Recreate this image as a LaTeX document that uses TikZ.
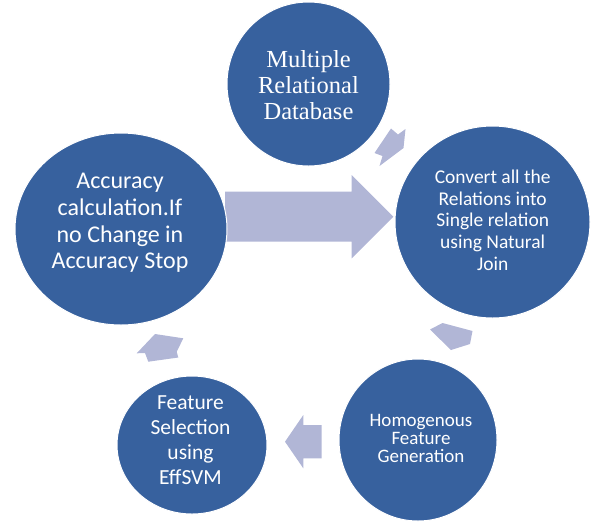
\documentclass[tikz,border=0pt]{standalone}
\usepackage{fontspec}
\setmainfont{Liberation Serif}
\newfontfamily\calib{Carlito}
\usetikzlibrary{shapes.geometric}
\definecolor{discblue}{RGB}{55,97,158}
\definecolor{arrowlav}{RGB}{177,182,214}
\begin{document}
\begin{tikzpicture}[x=1pt,y=-1pt,
  disc/.style={ellipse, fill=discblue, draw=white, line width=1pt, inner sep=0pt},
  caption/.style={text=white, align=center, inner sep=0pt},
  blockarrow/.style={fill=arrowlav}]
\useasboundingbox (0,0) rectangle (591,523);

% large arrow from the accuracy step to the join step
\fill[blockarrow] (225,191.7) -- (351.7,191.7) -- (351.7,175) -- (393.3,216.7)
  -- (351.7,258.4) -- (351.7,241.7) -- (225,241.7) -- cycle;

% the five steps of the cycle
\node[disc, minimum width=163pt, minimum height=164pt] (c1) at (308.5,84) {};
\node[disc, minimum width=195pt, minimum height=192pt] (c2) at (492.5,222) {};
\node[disc, minimum width=158pt, minimum height=162pt] (c3) at (418,440) {};
\node[disc, minimum width=150pt, minimum height=138pt] (c4) at (192,445) {};
\node[disc, minimum width=212pt, minimum height=192pt] (c5) at (121,229) {};

\node[caption, font={\fontsize{24.5}{26}\selectfont}] (t1) at (308.5,85)
  {Multiple\\Relational\\Database};
\node[caption, font={\calib\fontsize{19.5}{21.7}\selectfont}] (t2) at (492.7,220)
  {Convert all the\\Relations into\\Single relation\\using Natural\\Join};
\node[caption, font={\calib\fontsize{19}{18.2}\selectfont}] (t3) at (421,438.5)
  {Homogenous\\Feature\\Generation};
\node[caption, font={\calib\fontsize{21.5}{25}\selectfont}] (t4) at (190.5,440.5)
  {Feature\\Selection\\using\\EffSVM};
\node[caption, font={\calib\fontsize{24}{26.7}\selectfont}] (t5) at (120,223)
  {Accuracy\\calculation.If\\no Change in\\Accuracy Stop};

% small block arrows between neighbouring steps
\fill[blockarrow] (391,128.5) -- (398,134.5) -- (405.5,129) -- (403.5,148)
  -- (379.5,166) -- (382.5,156) -- (374.5,153) -- cycle;
\fill[blockarrow] (430,329.5) -- (442.5,323) -- (472.5,331) -- (470,344)
  -- (451,350) -- cycle;
\fill[blockarrow] (285,441.7) -- (303.3,415) -- (303.3,425) -- (321.7,425)
  -- (321.7,458.3) -- (303.3,458.3) -- (303.3,468.3) -- cycle;
\fill[blockarrow] (136.7,353.3) -- (155,334) -- (183.3,338.3) -- (176.7,351.7)
  -- (178.3,357.5) -- (148.3,361.7) -- (145,353) -- cycle;
\end{tikzpicture}
\end{document}
